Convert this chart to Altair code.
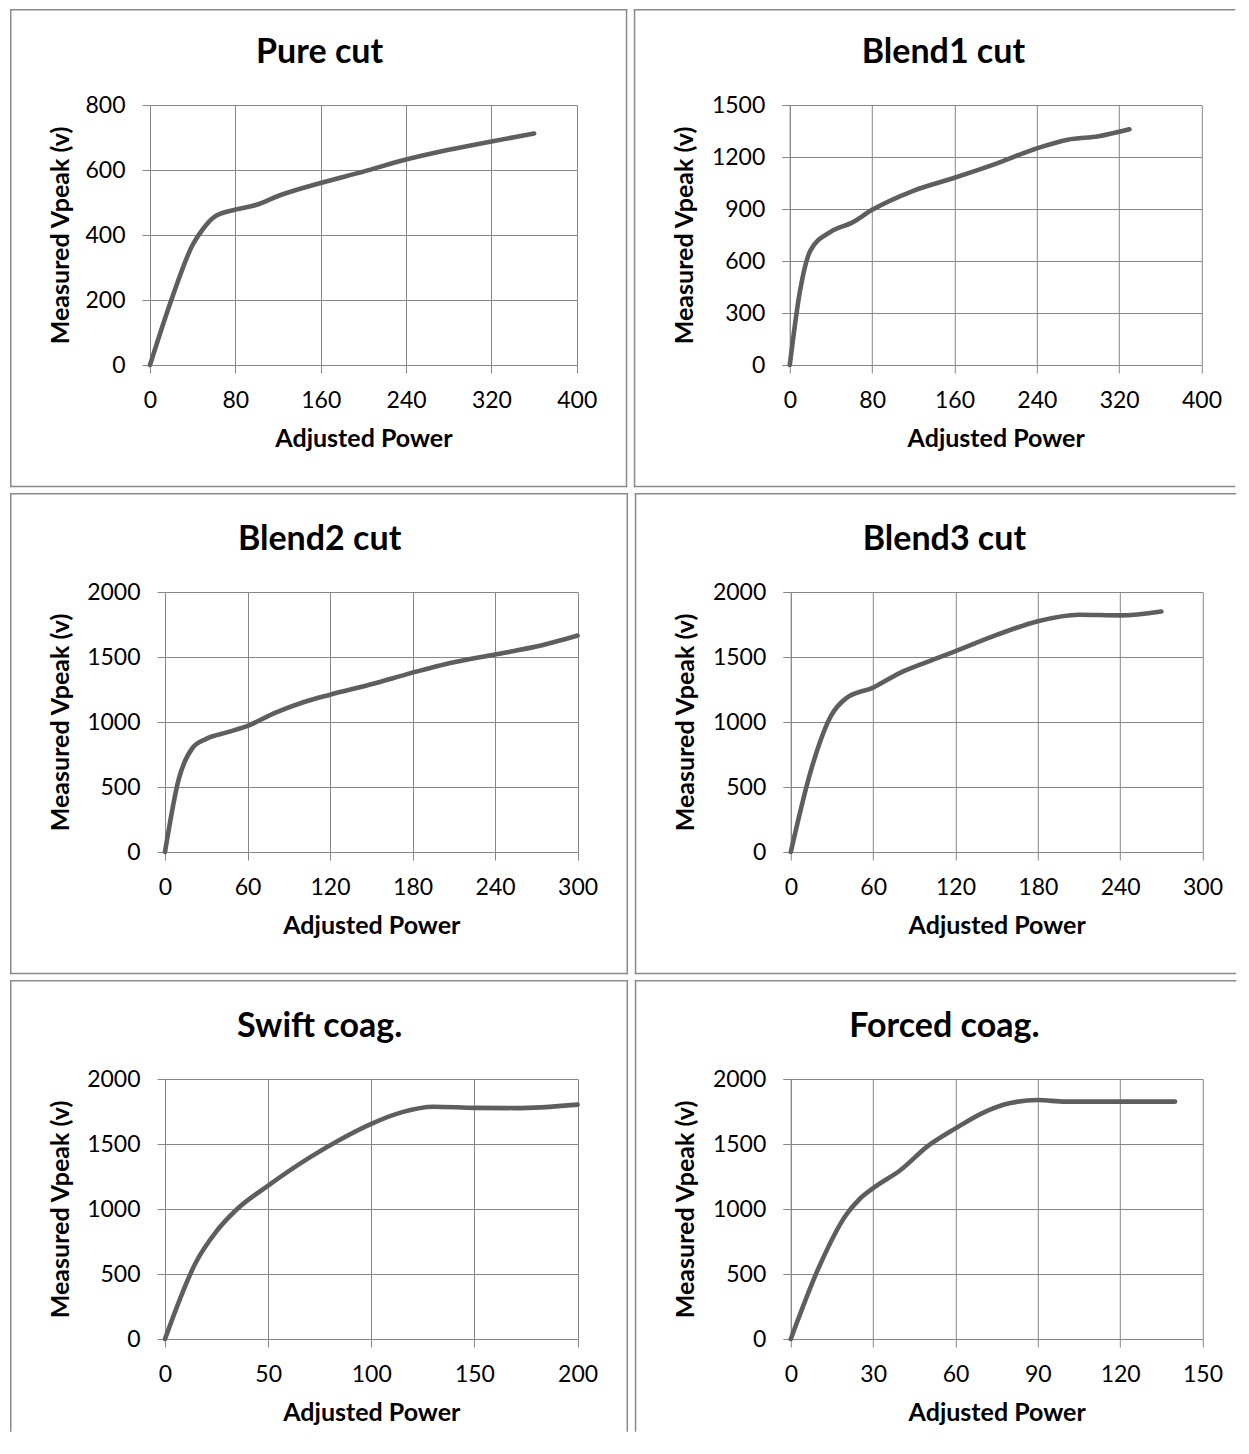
import altair as alt
import pandas as pd

# ---------------- data ----------------
titles = ["Pure cut", "Blend1 cut", "Blend2 cut", "Blend3 cut", "Swift coag.", "Forced coag."]

pure_x = [0, 20, 40, 50, 60, 80, 100, 120, 160, 200, 240, 280, 320, 360]
pure_y = [0, 200, 370, 420, 455, 478, 493, 520, 560, 595, 632, 662, 688, 712]

blend1_x = [0, 10, 20, 40, 60, 80, 120, 160, 200, 240, 270, 300, 330]
blend1_y = [0, 430, 660, 770, 820, 895, 1005, 1080, 1160, 1250, 1300, 1320, 1360]

blend2_x = [0, 10, 20, 30, 45, 60, 80, 100, 120, 150, 180, 210, 240, 270, 300]
blend2_y = [0, 560, 800, 870, 920, 970, 1070, 1150, 1210, 1290, 1380, 1460, 1520, 1580, 1665]

blend3_x = [0, 15, 30, 40, 60, 80, 100, 120, 150, 180, 210, 240, 270]
blend3_y = [0, 640, 1060, 1180, 1265, 1380, 1465, 1545, 1670, 1775, 1825, 1820, 1850]

swift_x = [0, 15, 25, 35, 50, 70, 85, 100, 115, 130, 150, 170, 200]
swift_y = [0, 590, 830, 1000, 1180, 1395, 1535, 1655, 1745, 1787, 1778, 1776, 1803]

forced_x = [0, 10, 20, 25, 30, 40, 50, 60, 70, 80, 90, 100, 110, 120, 130, 140]
forced_y = [0, 540, 950, 1075, 1160, 1300, 1485, 1620, 1740, 1815, 1838, 1826, 1826, 1826, 1826, 1826]

x_ticks = [
    [0, 80, 160, 240, 320, 400],
    [0, 80, 160, 240, 320, 400],
    [0, 60, 120, 180, 240, 300],
    [0, 60, 120, 180, 240, 300],
    [0, 50, 100, 150, 200],
    [0, 30, 60, 90, 120, 150],
]
y_ticks = [
    [0, 200, 400, 600, 800],
    [0, 300, 600, 900, 1200, 1500],
    [0, 500, 1000, 1500, 2000],
    [0, 500, 1000, 1500, 2000],
    [0, 500, 1000, 1500, 2000],
    [0, 500, 1000, 1500, 2000],
]
series_x = [pure_x, blend1_x, blend2_x, blend3_x, swift_x, forced_x]
series_y = [pure_y, blend1_y, blend2_y, blend3_y, swift_y, forced_y]

x_title = "Adjusted Power"
y_title = "Measured Vpeak (v)"

# ---------------- style / layout ----------------
GRID = "#868686"
BORDER = "#8a8a8a"
LINE = "#5e5e5e"
FONT = "Lato"
PLOT_H = 260
BW = 1.5  # border width


def border_rule(x1, x2, y1, y2):
    one = pd.DataFrame({"k": [0]})
    return alt.Chart(one).mark_rule(
        color=BORDER, strokeWidth=BW, strokeCap="square"
    ).encode(x=alt.value(x1), x2=alt.value(x2), y=alt.value(y1), y2=alt.value(y2))


def panel(i):
    row, col = divmod(i, 2)
    if col == 0:
        plot_w = 426.8 if i == 0 else 412.6
        left_off = 139.25 if i == 0 else 154.25
        right_ext = plot_w + 49.7
    else:
        plot_w = 411.7
        left_off = 155.25
        right_ext = plot_w + 33.0
    top_off = 95.25 if row == 0 else 98.25
    bottom_ext = PLOT_H + (121.5 if row < 2 else 92.0)

    xt, yt = x_ticks[i], y_ticks[i]
    df = pd.DataFrame({"x": series_x[i], "y": series_y[i]})

    line = alt.Chart(df).mark_line(
        color=LINE, strokeWidth=4.6, interpolate="monotone",
        strokeCap="round", strokeJoin="round"
    ).encode(
        x=alt.X("x:Q",
                scale=alt.Scale(domain=[xt[0], xt[-1]], nice=False, zero=False),
                axis=alt.Axis(values=xt, title=x_title, format="d", titleY=81,
                              titleBaseline="alphabetic",
                              labelBaseline="alphabetic", labelPadding=34)),
        y=alt.Y("y:Q",
                scale=alt.Scale(domain=[yt[0], yt[-1]], nice=False, zero=False),
                axis=alt.Axis(values=yt, title=y_title, format="d",
                              titleX=58.0 - left_off,
                              titleAngle=270, titleBaseline="alphabetic",
                              labelPadding=17)),
    )

    layers = [
        border_rule(-left_off, right_ext, -top_off, -top_off),          # top
        border_rule(-left_off, -left_off, -top_off, bottom_ext),        # left
    ]
    if col == 0:
        layers.append(border_rule(right_ext, right_ext, -top_off, bottom_ext))  # right
    if row < 2:
        layers.append(border_rule(-left_off, right_ext, bottom_ext, bottom_ext))  # bottom

    tdf = pd.DataFrame({"t": [titles[i]]})
    center = -left_off + 308.85
    title = alt.Chart(tdf).mark_text(
        font=FONT, fontSize=34, fontWeight="bold", color="black",
        align="center", baseline="alphabetic"
    ).encode(
        text="t:N",
        x=alt.value(center),
        y=alt.value(-42),
    )
    layers += [line, title]
    return alt.layer(*layers).properties(width=plot_w, height=PLOT_H)


def spacer():
    one = pd.DataFrame({"k": [0]})
    return alt.Chart(one).mark_text(text="", fontSize=1).encode(
        x=alt.value(0), y=alt.value(0)
    ).properties(width=1, height=1)


rows = []
for r in range(3):
    pair = alt.hconcat(panel(2 * r), panel(2 * r + 1), spacing=4.8)
    rows.append(alt.hconcat(spacer(), pair, spacing=0))

chart = alt.vconcat(*rows, spacing=4.0).properties(
    padding={"left": 0, "top": 0, "right": 0, "bottom": 0}
).configure_view(strokeWidth=0).configure_axis(
    gridColor=GRID, gridWidth=1, gridOpacity=1,
    domainColor=GRID, domainWidth=1,
    tickColor=GRID, tickWidth=1, tickSize=8,
    labelFont=FONT, labelFontSize=23, labelColor="black",
    labelFlush=False, labelOverlap=False,
    titleFont=FONT, titleFontSize=25, titleFontWeight="bold", titleColor="black",
)

chart.save("out.html", embed_options={"renderer": "svg", "actions": False})
